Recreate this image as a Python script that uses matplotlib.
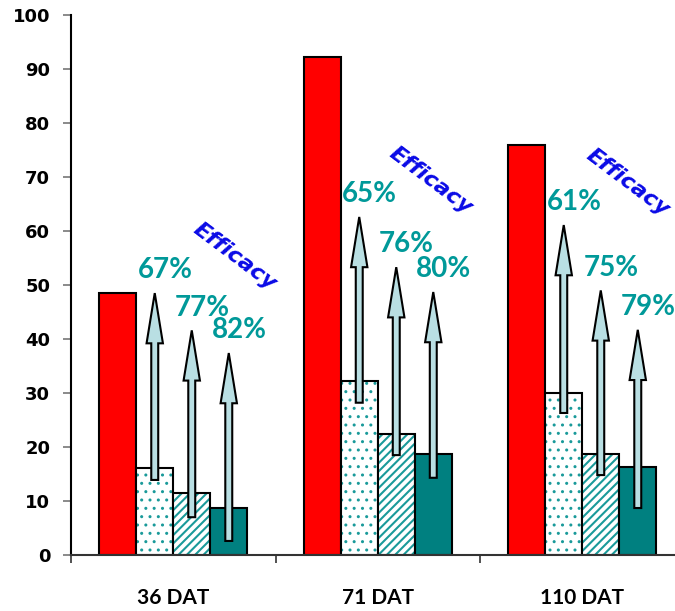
"""Bar chart with efficacy arrows per sampling date."""
import matplotlib
matplotlib.use('Agg')
import matplotlib.pyplot as plt
import numpy as np

# Data
dates = ['36 DAT', '71 DAT', '110 DAT']
control = [48.5, 92.2, 76.0]
treat_a = [16.2, 32.3, 30.0]
treat_b = [11.4, 22.4, 18.7]
treat_c = [8.7, 18.7, 16.3]
efficacy = [[67, 77, 82], [65, 76, 80], [61, 75, 79]]
arrow_from = [[13.9, 7.0, 2.6], [28.2, 18.5, 14.3], [26.3, 14.8, 8.7]]
arrow_to = [[48.5, 41.6, 37.4], [62.6, 53.3, 48.7], [61.1, 49.0, 41.7]]
efficacy_word_y = [55.2, 69.4, 69.0]

teal = '#008080'

fig = plt.figure(figsize=(6.75, 6.11), dpi=100)
ax = fig.add_axes([71 / 675, 56 / 611, 613.5 / 675, 540 / 611])

x = np.arange(len(dates))
w = 0.181

ax.bar(x - 1.5 * w, control, w, color='#ff0000', edgecolor='black', linewidth=1.5, zorder=2)
# hatched bars: hatch drawn in teal, outline drawn separately in black
plt.rcParams['hatch.linewidth'] = 1.0
ax.bar(x - 0.5 * w, treat_a, w, color='white', edgecolor='#1a9a9a', hatch='..', linewidth=0, zorder=2)
ax.bar(x - 0.5 * w, treat_a, w, fill=False, edgecolor='black', linewidth=1.5, zorder=2)
plt.rcParams['hatch.linewidth'] = 1.5
ax.bar(x + 0.5 * w, treat_b, w, color='white', edgecolor='#1a9a9a', hatch='////', linewidth=0, zorder=2)
ax.bar(x + 0.5 * w, treat_b, w, fill=False, edgecolor='black', linewidth=1.5, zorder=2)
ax.bar(x + 1.5 * w, treat_c, w, color=teal, edgecolor='black', linewidth=1.5, zorder=2)

# arrows + percentage labels
for i in range(len(dates)):
    for j in range(3):
        xa = x[i] + (j - 0.5) * w
        y0, y1 = arrow_from[i][j], arrow_to[i][j]
        ax.arrow(xa, y0, 0, y1 - y0, width=0.034, head_width=0.08, head_length=9.3,
                 length_includes_head=True, facecolor='#b9dfe3', edgecolor='black',
                 linewidth=1.5, zorder=3)
        ax.text(xa + 0.05, y1 + 4.2, f'{efficacy[i][j]}%', ha='center', va='center',
                fontsize=20, fontweight='bold', color='#009999', family='Lato', zorder=4)
    ax.text(x[i] + 0.3 - 0.04 * i, efficacy_word_y[i], 'Efficacy', rotation=-37,
            rotation_mode='anchor', ha='center', va='center', fontsize=16,
            fontweight='bold', style='italic', color='#0a0ae6', zorder=4)

ax.set_xlim(-0.5, 2.5)
ax.set_ylim(0, 100)
ax.set_yticks(np.arange(0, 101, 10))
ax.set_xticks(x)
ax.set_xticklabels(dates, fontsize=15, fontweight='bold', family='Lato')
ax.set_xticks(np.arange(-0.5, 3, 1), minor=True)
ax.tick_params(axis='x', which='major', length=0, pad=24)
ax.tick_params(axis='x', which='minor', length=6, width=1.2, color='#333333')
ax.tick_params(axis='y', length=6, width=1.2, color='#777777', pad=9, labelsize=13)
for lbl in ax.get_yticklabels():
    lbl.set_fontweight('bold')

for s in ['top', 'right']:
    ax.spines[s].set_visible(False)
ax.spines['left'].set_linewidth(1.5)
ax.spines['bottom'].set_linewidth(1.5)
ax.spines['bottom'].set_color('#333333')

plt.savefig('out.png', dpi=100, facecolor='white')
plt.close()
print("OK: out.png")
